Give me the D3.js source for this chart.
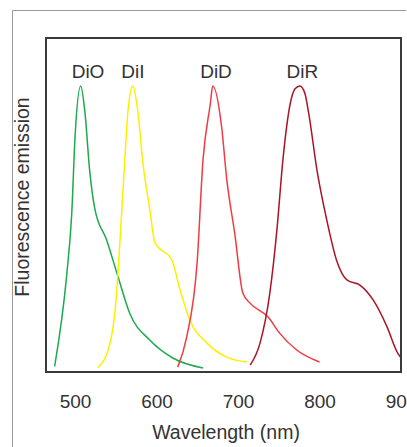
<!DOCTYPE html>
<html><head><meta charset="utf-8">
<script src="https://cdn.jsdelivr.net/npm/d3@7"></script>
<style>
html,body{margin:0;padding:0;background:#fff;}
svg{display:block;font-family:"Liberation Sans",Arial,sans-serif;}
</style></head>
<body>
<svg id="c" width="407" height="447"></svg>
<script>
const dyes = ["DiO", "DiI", "DiD", "DiR"];
const colors = ["#1daa4e", "#ffee00", "#f03a44", "#aa1525"];
const labelWavelengths = [516, 571, 673, 779];
const tickValues = [500, 600, 700, 800, 900];

const dioWl = [475, 490, 496, 500, 507, 512, 518, 524, 539, 553, 567, 592, 620, 657];
const dioEm = [0.02, 0.345, 0.554, 0.82, 1.0, 0.913, 0.704, 0.575, 0.46, 0.331, 0.206, 0.111, 0.049, 0.014];
const diiWl = [528, 543, 551, 555, 561, 565, 571, 577, 583, 592, 598, 619, 629, 641, 662, 686, 711];
const diiEm = [0.014, 0.101, 0.275, 0.449, 0.739, 0.913, 1.0, 0.913, 0.739, 0.564, 0.453, 0.39, 0.286, 0.181, 0.101, 0.052, 0.035];
const didWl = [626, 637, 650, 657, 666, 669, 680, 686, 696, 706, 715, 737, 751, 772, 800];
const didEm = [0.017, 0.122, 0.39, 0.739, 0.937, 1.0, 0.854, 0.679, 0.484, 0.275, 0.24, 0.192, 0.136, 0.077, 0.035];
const dirWl = [715, 727, 739, 748, 755, 764, 770, 776, 782, 787, 797, 809, 821, 834, 850, 866, 883, 896, 900];
const dirEm = [0.024, 0.101, 0.275, 0.505, 0.739, 0.937, 0.99, 1.0, 0.975, 0.9, 0.704, 0.53, 0.39, 0.321, 0.303, 0.251, 0.157, 0.066, 0.05];

const series = [
  {wl: dioWl, em: dioEm},
  {wl: diiWl, em: diiEm},
  {wl: didWl, em: didEm},
  {wl: dirWl, em: dirEm}
];

const svg = d3.select("#c");
const L = 46, R = 401, T = 38, B = 372;
const x = d3.scaleLinear().domain([464.4, 900]).range([L, R]);
const y = d3.scaleLinear().domain([0, 1]).range([B, 86]);

// outer frame
svg.append("path").attr("d", `M12.5,447 V10.5 H406`).attr("fill", "none")
  .attr("stroke", "#9a9a9a").attr("stroke-width", 1);

// curves
const line = d3.line().x(d => x(d[0])).y(d => y(d[1])).curve(d3.curveMonotoneX);
series.forEach((s, i) => {
  svg.append("path").datum(s.wl.map((w, j) => [w, s.em[j]]))
    .attr("d", line).attr("fill", "none")
    .attr("stroke", colors[i]).attr("stroke-width", 1.5);
});

// plot frame
svg.append("rect").attr("x", L).attr("y", T).attr("width", R - L).attr("height", B - T)
  .attr("fill", "none").attr("stroke", "#3a3a3a").attr("stroke-width", 2);

// dye labels
svg.selectAll("text.dye").data(dyes).enter().append("text")
  .attr("class", "dye")
  .attr("x", (d, i) => x(labelWavelengths[i])).attr("y", 78)
  .attr("text-anchor", "middle").attr("font-size", 19).attr("fill", "#333")
  .text(d => d);

// x axis
const xAxis = d3.axisBottom(x).tickValues(tickValues).tickSize(0).tickPadding(0);
const gx = svg.append("g").attr("transform", `translate(0,${B})`).call(xAxis);
gx.select(".domain").remove();
gx.selectAll("text").attr("font-size", 19).attr("fill", "#333")
  .attr("font-family", "'Liberation Sans',Arial,sans-serif")
  .attr("dy", null).attr("y", 36);

svg.append("text").attr("x", 226).attr("y", 439).attr("text-anchor", "middle")
  .attr("font-size", 19.5).attr("fill", "#333").text("Wavelength (nm)");

svg.append("text").attr("transform", "translate(29,197) rotate(-90)")
  .attr("text-anchor", "middle").attr("font-size", 19.5).attr("fill", "#333")
  .text("Fluorescence emission");
</script>
</body></html>
